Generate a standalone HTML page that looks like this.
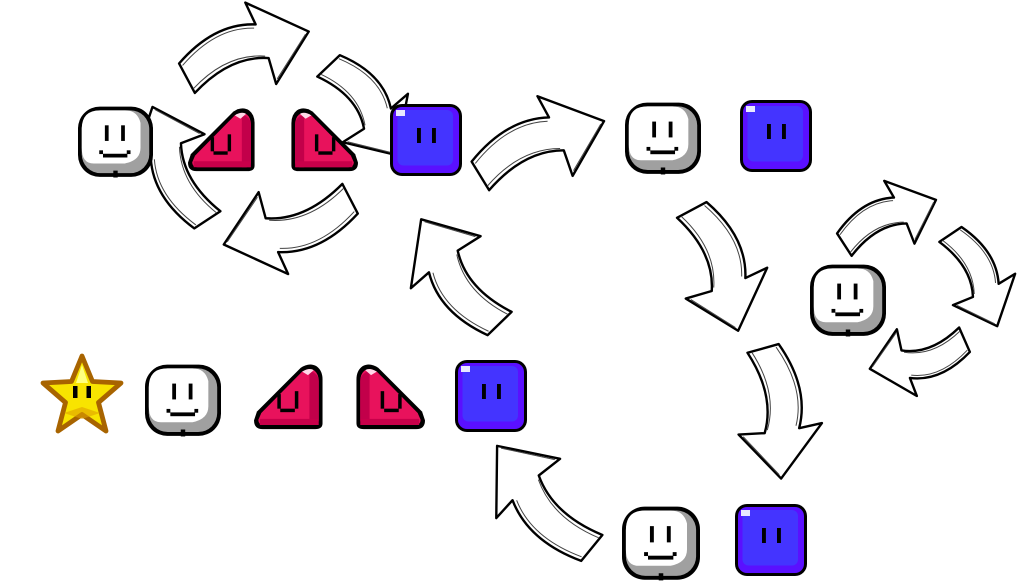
<!DOCTYPE html>
<html><head><meta charset="utf-8"><style>html,body{margin:0;padding:0;background:#fff;overflow:hidden}svg{display:block}</style></head>
<body>
<svg width="1024" height="583" viewBox="0 0 1024 583" xmlns="http://www.w3.org/2000/svg">
<defs>
<symbol id="wf" viewBox="0 0 24 24">
  <rect x="0" y="0.5" width="24" height="22.5" rx="7" fill="#000"/>
  <rect x="1.2" y="1.7" width="21.6" height="20.1" rx="6" fill="#a0a0a0"/>
  <path d="M7 1.7 h8 q4 0 5 4 v8 q0 4 -5 5 H5 q-3.8 0 -3.8 -5 V7.7 q0 -6 5.8 -6z" fill="#fff"/>
  <rect x="11.3" y="21" width="1.4" height="2.2" fill="#000"/>
  <rect x="8.6" y="6.5" width="1.2" height="5" fill="#000"/>
  <rect x="13.8" y="6.5" width="1.2" height="5" fill="#000"/>
  <rect x="6.8" y="14.5" width="1.2" height="1.2" fill="#000"/>
  <rect x="8" y="15.6" width="7.8" height="1.2" fill="#000"/>
  <rect x="15.6" y="14.5" width="1.2" height="1.2" fill="#000"/>
</symbol>
<symbol id="bl" viewBox="0 0 24 24">
  <rect x="0" y="0" width="24" height="24" rx="4" fill="#000"/>
  <rect x="1" y="1" width="22" height="22" rx="3" fill="#5a10ff"/>
  <rect x="2.5" y="2" width="18.5" height="18.5" rx="2" fill="#4434ff"/>
  <rect x="2" y="2" width="3" height="2" fill="#e8e8ff"/>
  <rect x="9" y="8" width="1.3" height="5" fill="#000"/>
  <rect x="14" y="8" width="1.3" height="5" fill="#000"/>
</symbol>
<symbol id="tr" viewBox="0 0 24 24">
  <path d="M1,17 L16,2 Q19,0 21.5,1.5 Q23.5,3 23.5,6 V21 Q23.5,23 21,23 H3 Q0,23 0,20 Z" fill="#000"/>
  <path d="M2.5,17.5 L16.5,3.3 Q19,1.8 20.8,3 Q22.2,4.2 22.2,6.5 V20 Q22.2,21.6 20.5,21.6 H3.5 Q1.5,21.6 1.5,19.8 Z" fill="#e8125c"/>
  <path d="M19,3 Q22.2,4 22.2,6.5 V21.6 H19 Z" fill="#c2004a"/>
  <path d="M16.5,3.3 Q19,1.8 20.5,2.8 L18.5,4.5 Z" fill="#ffd8e8"/>
  <rect x="2" y="19.5" width="20" height="2.1" fill="#c8004a"/>
  <rect x="8" y="11" width="1.2" height="5" fill="#000"/>
  <rect x="14" y="10" width="1.2" height="6" fill="#000"/>
  <rect x="9" y="16" width="5" height="1.2" fill="#000"/>
</symbol>
<symbol id="st" viewBox="0 0 28 28">
  <polygon points="14,1 17.5,9.5 27,10 19.5,16.5 22,26 14,20.5 6,26 8.5,16.5 1,10 10.5,9.5" fill="#f8e400" stroke="#a86400" stroke-width="1.6" stroke-linejoin="round"/>
  <polygon points="14,4 16,10 12,10" fill="#ffff80"/>
  <rect x="11" y="11" width="1.5" height="4" fill="#000"/>
  <rect x="15.5" y="11" width="1.5" height="4" fill="#000"/>
  <polygon points="8,20 14,18 20,20 14,22" fill="#e0a000" opacity=".6"/>
</symbol>
<g id="ar">
  <path d="M0,-6 Q35,-24 64,-14 L62,-30 L100,2 L64,28 L65,10 Q38,0 4,16 Z" fill="#fff" stroke="#000" stroke-width="2.4" stroke-linejoin="round" vector-effect="non-scaling-stroke"/>
  <path d="M2,-4 Q35,-21 62,-12 M66,25 L97,3 M4,13 Q36,-2 63,8" fill="none" stroke="#444" stroke-width="1" vector-effect="non-scaling-stroke"/>
</g>
</defs>

<use href="#ar" transform="translate(182,72) rotate(-19) scale(1.33,1.5)"/>
<use href="#ar" transform="translate(333,60) rotate(55) scale(1.14,1.4)"/>
<use href="#ar" transform="translate(355,205) rotate(162) scale(1.37,1.5)"/>
<use href="#ar" transform="translate(202,225) rotate(-114) scale(1.28,1.4)"/>
<use href="#ar" transform="translate(475,170) rotate(-22) scale(1.38,1.5)"/>
<use href="#ar" transform="translate(495,330) rotate(-125) scale(1.33,1.5)"/>
<use href="#ar" transform="translate(698,205) rotate(71) scale(1.32,1.5)"/>
<use href="#ar" transform="translate(840,240) rotate(-24) scale(1.04,1.2)"/>
<use href="#ar" transform="translate(955,230) rotate(65) scale(1.05,1.2)"/>
<use href="#ar" transform="translate(968,345) rotate(165) scale(1.01,1.2)"/>
<use href="#ar" transform="translate(770,345) rotate(84) scale(1.34,1.45)"/>
<use href="#ar" transform="translate(588,555) rotate(-131) scale(1.42,1.5)"/>

<use href="#wf" x="78" y="105" width="75" height="75"/>
<use href="#tr" x="188" y="105" width="68" height="70"/>
<use href="#tr" transform="translate(358,105) scale(-1,1)" width="68" height="70"/>
<use href="#bl" x="390" y="104" width="72" height="72"/>
<use href="#wf" x="625" y="100" width="76" height="78"/>
<use href="#bl" x="740" y="100" width="72" height="72"/>
<use href="#wf" x="810" y="263" width="76" height="76"/>
<use href="#st" x="38" y="353" width="88" height="84"/>
<use href="#wf" x="145" y="362" width="76" height="78"/>
<use href="#tr" x="252" y="362" width="74" height="70"/>
<use href="#tr" transform="translate(427,362) scale(-1,1)" width="74" height="70"/>
<use href="#bl" x="455" y="360" width="72" height="72"/>
<use href="#wf" x="622" y="505" width="78" height="78"/>
<use href="#bl" x="735" y="504" width="72" height="72"/>
</svg>
</body></html>
